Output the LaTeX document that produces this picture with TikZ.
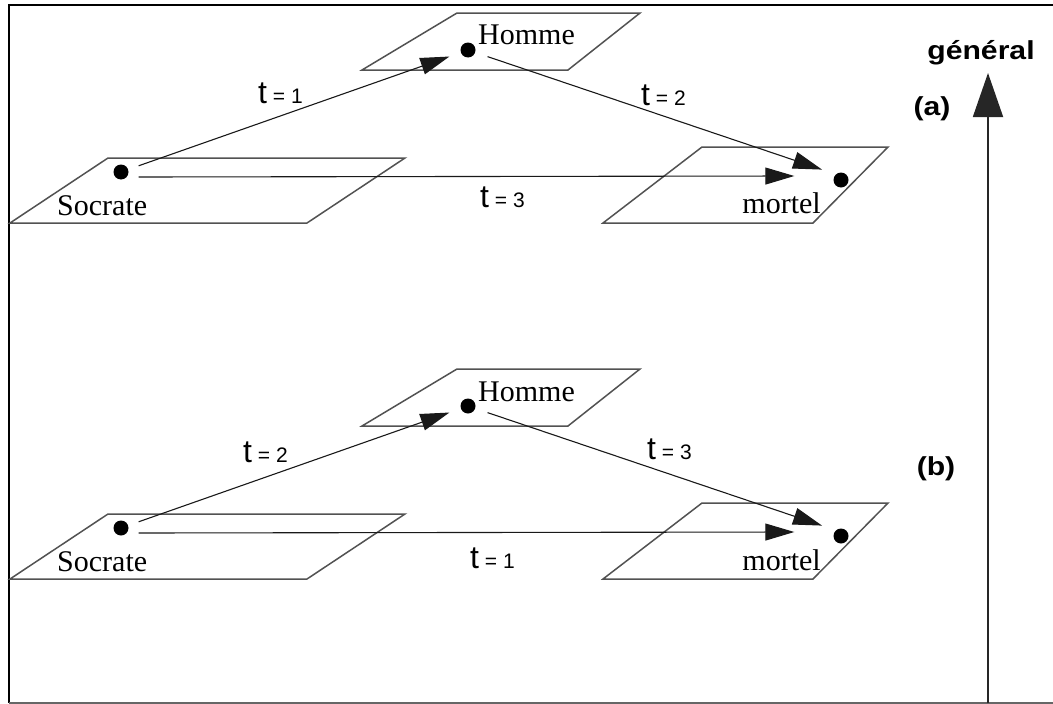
\documentclass[tikz,border=0pt]{standalone}
\usepackage{fontspec}
\setmainfont{Liberation Serif}
\setsansfont{Liberation Sans}
\usetikzlibrary{arrows.meta}
\newcommand{\tlab}[1]{{\fontsize{32}{38}\selectfont t}{\fontsize{21}{25}\selectfont\ = #1}}
\newcommand{\boldlab}[1]{\scalebox{1.16}[1]{\fontsize{26}{31}\selectfont\bfseries #1}}
\begin{document}
\begin{tikzpicture}[x=1pt,y=-1pt,
  plane/.style={draw=black!68, line width=1.5pt, line join=miter},
  conn/.style={draw=black!90, line width=1.1pt, -{Triangle[length=29pt,width=17pt]}},
  dot/.style={circle, fill=black, inner sep=0pt, minimum size=15pt},
  word/.style={font=\fontsize{30}{36}\selectfont, inner sep=0pt},
  tl/.style={font=\sffamily, inner sep=0pt, anchor=base west},
  bl/.style={font=\sffamily, inner sep=0pt, anchor=base}]
\useasboundingbox (0,0) rectangle (1053,704);
% frame
\draw[line width=2.6pt, black] (1060,5) -- (9,5) -- (9,703);
\draw[line width=1.5pt, black!60] (9,703) -- (1060,703);

% ---------- (a) ----------
\draw[plane] (362,70) -- (568,70) -- (640,13) -- (457,13) -- cycle;
\draw[plane] (10,223) -- (307,223) -- (405,158) -- (108,158) -- cycle;
\draw[plane] (603,223) -- (813,223) -- (888,147) -- (702,147) -- cycle;
\node[dot] (ha) at (468,50) {};
\node[dot] (sa) at (121,172) {};
\node[dot] (ma) at (841,180) {};
\node[word, anchor=base west] (hta) at (478,45) {Homme};
\node[word, anchor=base west] (sta) at (57,215) {Socrate};
\node[word, anchor=base east] (mta) at (821,213) {mortel};
\draw[conn, shorten <=11pt, shorten >=12pt] (sa) -- (ha);
\draw[conn, shorten <=13pt, shorten >=20pt] (ha) -- ([yshift=4pt]ma.center);
\draw[conn] ([xshift=10pt,yshift=-5pt]sa.east) -- ([xshift=-39pt,yshift=4pt]ma.west);
\node[tl] (la1) at (258,103) {\tlab{1}};
\node[tl] (la2) at (641,105) {\tlab{2}};
\node[tl] (la3) at (480,207) {\tlab{3}};

% ---------- (b) ----------
\draw[plane] (362,426) -- (568,426) -- (640,369) -- (457,369) -- cycle;
\draw[plane] (10,579) -- (307,579) -- (405,514) -- (108,514) -- cycle;
\draw[plane] (603,579) -- (813,579) -- (888,503) -- (702,503) -- cycle;
\node[dot] (hb) at (468,406) {};
\node[dot] (sb) at (121,528) {};
\node[dot] (mb) at (841,536) {};
\node[word, anchor=base west] (htb) at (478,401) {Homme};
\node[word, anchor=base west] (stb) at (57,571) {Socrate};
\node[word, anchor=base east] (mtb) at (821,570) {mortel};
\draw[conn, shorten <=11pt, shorten >=12pt] (sb) -- (hb);
\draw[conn, shorten <=13pt, shorten >=20pt] (hb) -- ([yshift=4pt]mb.center);
\draw[conn] ([xshift=10pt,yshift=-5pt]sb.east) -- ([xshift=-39pt,yshift=4pt]mb.west);
\node[tl] (lb2) at (243,462) {\tlab{2}};
\node[tl] (lb3) at (647,459) {\tlab{3}};
\node[tl] (lb1) at (470,568) {\tlab{1}};

% ---------- generality axis ----------
\coordinate (gbot) at (988,703);
\coordinate (gtop) at (988,73);
\draw[line width=1.8pt, black!85, -{Triangle[length=44pt,width=30pt]}] (gbot) -- (gtop);
\node[bl] (gen) at (981,59) {\boldlab{général}};
\node[bl] (pa) at (932,115) {\boldlab{(a)}};
\node[bl] (pb) at (936,475) {\boldlab{(b)}};
\end{tikzpicture}
\end{document}
